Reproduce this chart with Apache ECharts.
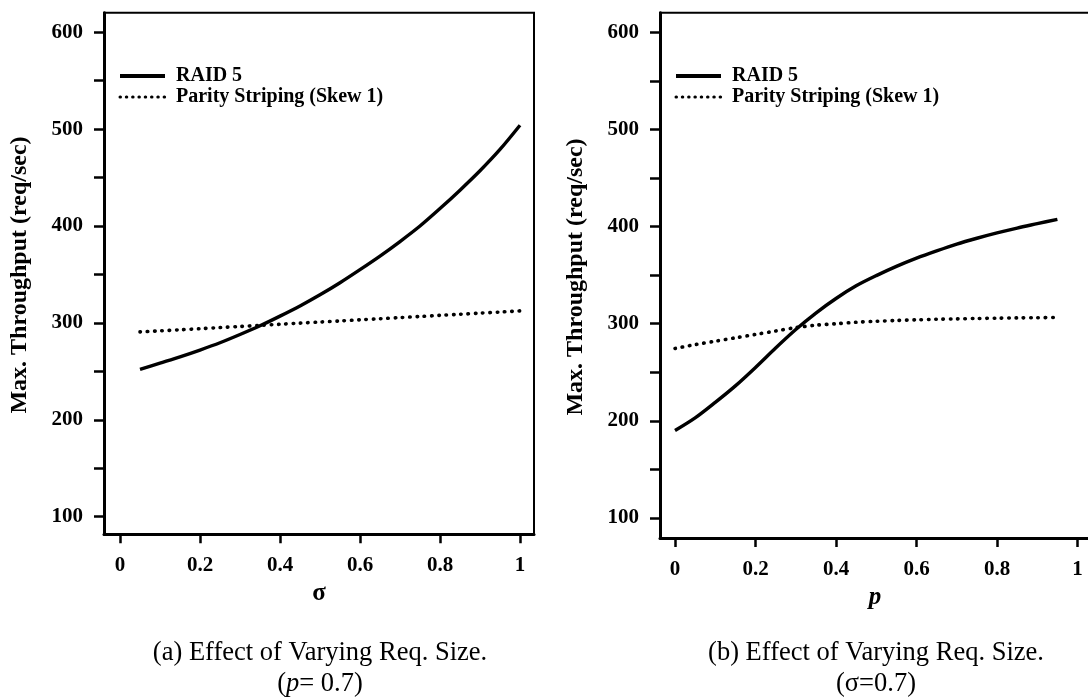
<!DOCTYPE html>
<html>
<head>
<meta charset="utf-8">
<script src="https://cdn.jsdelivr.net/npm/echarts@6/dist/echarts.min.js"></script>
<style>
html,body{margin:0;padding:0;background:#fff;}
#chart{width:1088px;height:698px;}
</style>
</head>
<body>
<div id="chart"></div>
<script>
// ---- data ----
var seriesNames = ['RAID 5', 'Parity Striping (Skew 1)'];
var sigmaValues = [0.05, 0.1, 0.15, 0.2, 0.25, 0.3, 0.35, 0.4, 0.45, 0.5, 0.55, 0.6, 0.65, 0.7, 0.75, 0.8, 0.85, 0.9, 0.95, 1.0];
var raidA   = [252, 258.5, 265, 272, 279.5, 288, 297, 307, 317.5, 329, 341.5, 355, 369, 384, 400, 418, 437, 457, 479, 504];
var parityA = [290.7, 291.8, 292.9, 294.0, 295.2, 296.3, 297.5, 298.6, 299.8, 300.9, 302.0, 303.2, 304.3, 305.5, 306.6, 307.8, 308.9, 310.1, 311.2, 312.4];
var pValues = [0, 0.05, 0.1, 0.15, 0.2, 0.25, 0.3, 0.35, 0.4, 0.45, 0.5, 0.55, 0.6, 0.65, 0.7, 0.75, 0.8, 0.85, 0.9, 0.95];
var raidB   = [190, 203, 219, 236, 255, 275, 294, 311, 326, 339, 349.5, 359, 367.5, 375, 382, 388, 393.5, 398.5, 403, 407.5];
var parityB = [274.5, 278.5, 282, 285.5, 289, 292.5, 296, 298.5, 300, 301.5, 302.5, 303.3, 304, 304.6, 305, 305.4, 305.7, 306, 306.2, 306.4];
var xTickLabels = [0, 0.2, 0.4, 0.6, 0.8, 1];
var yTickLabels = [100, 200, 300, 400, 500, 600];
var yTickMarks  = [100, 150, 200, 250, 300, 350, 400, 450, 500, 550, 600];

function pairs(xs, ys) { return xs.map(function (x, i) { return [x, ys[i]]; }); }

var FONT = 'Liberation Serif';
var chart = echarts.init(document.getElementById('chart'), null, {renderer: 'canvas'});

function xAxisCfg(gi, min, max, name, nameStyle) {
  return {
    type: 'value', gridIndex: gi, min: min, max: max,
    name: name, nameLocation: 'middle', nameGap: 47,
    nameTextStyle: nameStyle,
    axisLine: {show: true, onZero: false, lineStyle: {color: '#000', width: 3}},
    axisTick: {show: true, length: 9, inside: false, customValues: xTickLabels, lineStyle: {color: '#000', width: 2.5}},
    axisLabel: {show: true, customValues: xTickLabels, margin: 21, color: '#000',
      fontFamily: FONT, fontWeight: 'bold', fontSize: 21},
    splitLine: {show: false}
  };
}
function yAxisCfg(gi, min, max) {
  return {
    type: 'value', gridIndex: gi, min: min, max: max,
    axisLine: {show: true, onZero: false, lineStyle: {color: '#000', width: 3}},
    axisTick: {show: true, length: 10, customValues: yTickMarks, lineStyle: {color: '#000', width: 2.5}},
    axisLabel: {show: true, customValues: yTickLabels, margin: 21, color: '#000',
      fontFamily: FONT, fontWeight: 'bold', fontSize: 21},
    splitLine: {show: false}
  };
}

var solidStyle  = {color: '#000', width: 3.4, type: 'solid'};
var dottedStyle = {color: '#000', width: 3.6, type: [0.5, 6.8], cap: 'round'};

function legendCfg(left) {
  return {
    data: [
      {name: seriesNames[0], lineStyle: {width: 4, type: 'solid', color: '#000'}},
      {name: seriesNames[1], lineStyle: {width: 3, type: [0.5, 5.8], cap: 'round', color: '#000'}}
    ],
    orient: 'vertical', left: left, top: 61,
    itemWidth: 45, itemHeight: 14, itemGap: 1, selectedMode: false,
    itemStyle: {opacity: 0},
    textStyle: {fontFamily: FONT, fontWeight: 'bold', fontSize: 20, color: '#000', padding: [0, 0, 0, 6]}
  };
}

var option = {
  backgroundColor: '#fff',
  animation: false,
  grid: [
    {left: 104, top: 12.7, width: 430, height: 521.6, show: true, borderColor: '#000', borderWidth: 2,
      backgroundColor: 'transparent', containLabel: false, outerBoundsMode: 'none'},
    {left: 660, top: 12.7, width: 430, height: 525.3, show: true, borderColor: '#000', borderWidth: 2,
      backgroundColor: 'transparent', containLabel: false, outerBoundsMode: 'none'}
  ],
  xAxis: [
    xAxisCfg(0, -0.04, 1.035, 'σ', {fontFamily: FONT, fontWeight: 'bold', fontSize: 25, color: '#000'}),
    xAxisCfg(1, -0.0373, 1.031, 'p', {fontFamily: FONT, fontStyle: 'italic', fontWeight: 'bold', fontSize: 25, color: '#000'})
  ],
  yAxis: [
    yAxisCfg(0, 81.8, 620.2),
    yAxisCfg(1, 79.4, 620.2)
  ],
  legend: [legendCfg(113), legendCfg(669)],
  series: [
    {name: seriesNames[0], type: 'line', xAxisIndex: 0, yAxisIndex: 0, data: pairs(sigmaValues, raidA), showSymbol: false, symbol: 'none', smooth: 0.3, lineStyle: solidStyle, itemStyle: {color: '#000'}},
    {name: seriesNames[1], type: 'line', xAxisIndex: 0, yAxisIndex: 0, data: pairs(sigmaValues, parityA), showSymbol: false, symbol: 'none', smooth: 0.3, lineStyle: dottedStyle, itemStyle: {color: '#000'}},
    {name: seriesNames[0], type: 'line', xAxisIndex: 1, yAxisIndex: 1, data: pairs(pValues, raidB), showSymbol: false, symbol: 'none', smooth: 0.3, lineStyle: solidStyle, itemStyle: {color: '#000'}},
    {name: seriesNames[1], type: 'line', xAxisIndex: 1, yAxisIndex: 1, data: pairs(pValues, parityB), showSymbol: false, symbol: 'none', smooth: 0.3, lineStyle: dottedStyle, itemStyle: {color: '#000'}}
  ],
  graphic: [
    {type: 'text', x: 20, y: 275, rotation: Math.PI / 2,
      style: {text: 'Max. Throughput (req/sec)', align: 'center', verticalAlign: 'middle', fill: '#000',
        font: 'bold 24px "Liberation Serif"'}},
    {type: 'text', x: 576, y: 277, rotation: Math.PI / 2,
      style: {text: 'Max. Throughput (req/sec)', align: 'center', verticalAlign: 'middle', fill: '#000',
        font: 'bold 24px "Liberation Serif"'}},
    {type: 'text', x: 320, y: 653,
      style: {text: '(a) Effect of Varying Req. Size.', align: 'center', verticalAlign: 'middle', fill: '#000',
        font: '26.5px "Liberation Serif"'}},
    {type: 'text', x: 320, y: 684,
      style: {text: '({i|p}= 0.7)', align: 'center', verticalAlign: 'middle', fill: '#000',
        font: '26.5px "Liberation Serif"',
        rich: {i: {fontStyle: 'italic', fontFamily: FONT, fontSize: 26.5}}}},
    {type: 'text', x: 876, y: 653,
      style: {text: '(b) Effect of Varying Req. Size.', align: 'center', verticalAlign: 'middle', fill: '#000',
        font: '26.5px "Liberation Serif"'}},
    {type: 'text', x: 876, y: 684,
      style: {text: '(σ=0.7)', align: 'center', verticalAlign: 'middle', fill: '#000',
        font: '26.5px "Liberation Serif"'}}
  ]
};
chart.setOption(option);
</script>
</body>
</html>
